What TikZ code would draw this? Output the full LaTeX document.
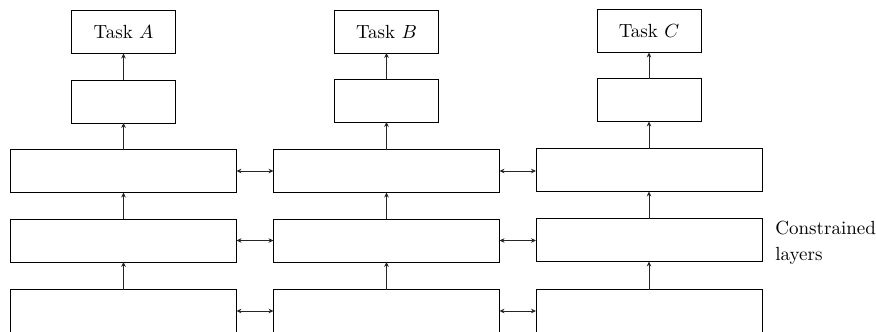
\documentclass[tikz,border=0pt]{standalone}
\usetikzlibrary{arrows.meta}
\begin{document}
\begin{tikzpicture}[x=0.526pt,y=-0.526pt,
  box/.style={draw=black,line width=0.5pt,minimum height=22.6pt,inner sep=0pt,outer sep=0pt},
  bigbox/.style={box,minimum width=118.9pt},
  smallbox/.style={box,minimum width=54.7pt},
  tip/.tip={Stealth[length=2.6pt,width=2.4pt]},
  uparrow/.style={draw=black!85,line width=0.45pt,-tip},
  dblarrow/.style={draw=black!85,line width=0.45pt,tip-tip},
  lbl/.style={inner sep=0pt,align=left,font=\normalsize}]
\useasboundingbox (0,0) rectangle (876,331);
% column A
\node[smallbox] (ta) at (123.5,32) {Task $A$};
\node[smallbox] (sa) at (123.5,101.5) {};
\node[bigbox] (a1) at (123.5,171) {};
\node[bigbox] (a2) at (123.5,240.5) {};
\node[bigbox] (a3) at (123.5,311) {};
% column B
\node[smallbox] (tb) at (386.5,31.5) {Task $B$};
\node[smallbox] (sb) at (386.5,100.5) {};
\node[bigbox] (b1) at (386.5,171) {};
\node[bigbox] (b2) at (386.5,240.5) {};
\node[bigbox] (b3) at (386.5,311) {};
% column C
\node[smallbox] (tc) at (649,31) {Task $C$};
\node[smallbox] (sc) at (649,100) {};
\node[bigbox] (c1) at (649,170) {};
\node[bigbox] (c2) at (649,240) {};
\node[bigbox] (c3) at (649,311) {};
% label
\node[lbl,anchor=west] (cl) at (775,243) {Constrained\\[1.7pt]layers};
% vertical arrows
\foreach \c in {a,b,c}{
  \draw[uparrow] (\c3) -- (\c2);
  \draw[uparrow] (\c2) -- (\c1);
  \draw[uparrow] (\c1) -- (s\c);
  \draw[uparrow] (s\c) -- (t\c);
}
% horizontal arrows
\foreach \i in {1,2,3}{
  \draw[dblarrow] (a\i.east) -- (a\i.east -| b\i.west);
  \draw[dblarrow] (b\i.east) -- (b\i.east -| c\i.west);
}
\end{tikzpicture}
\end{document}
